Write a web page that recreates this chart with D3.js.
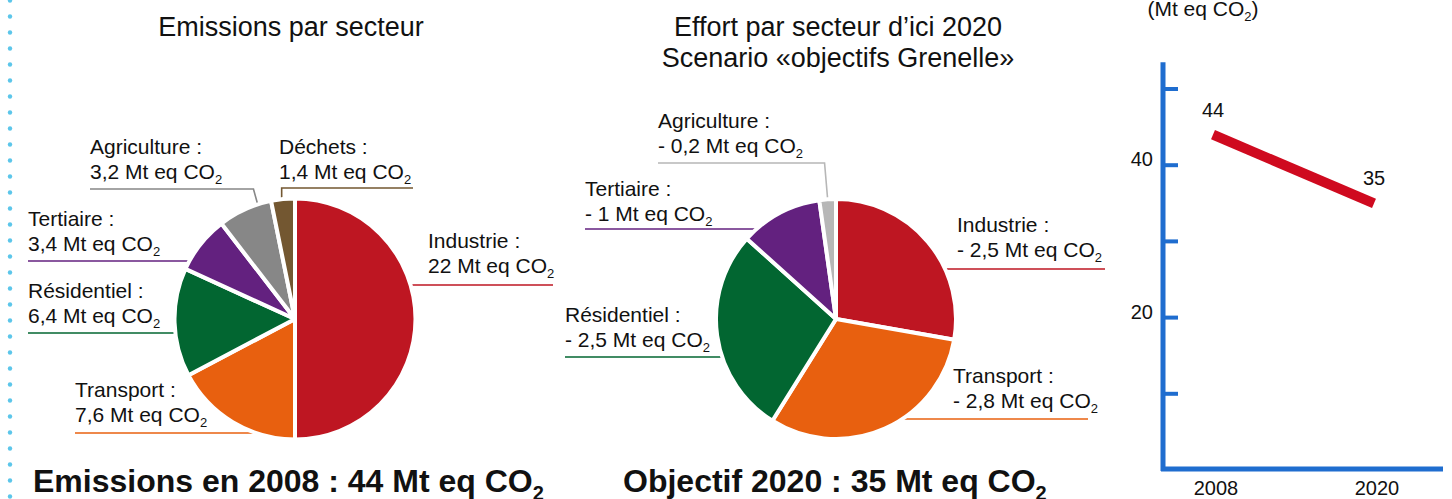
<!DOCTYPE html>
<html><head><meta charset="utf-8">
<script src="https://cdn.jsdelivr.net/npm/d3@7/dist/d3.min.js"></script>
<style>
html,body{margin:0;padding:0;background:#fff;}
svg{display:block;font-family:"Liberation Sans",Arial,sans-serif;}
</style></head>
<body>
<svg id="chart" width="1452" height="499"></svg>
<script>
// ---------- DATA ----------
const sectors2008 = ["Industrie", "Transport", "Résidentiel", "Tertiaire", "Agriculture", "Déchets"];
const values2008 = [22, 7.6, 6.4, 3.4, 3.2, 1.4];
const sectors2020 = ["Industrie", "Transport", "Résidentiel", "Tertiaire", "Agriculture"];
const effort2020 = [2.5, 2.8, 2.5, 1, 0.2];
const years = ["2008", "2020"];
const totals = [44, 35];
const yTicks = [10, 20, 30, 40, 50];
const yTickLabels = ["", "20", "", "40", ""];

// ---------- STYLE ----------
const colors = {
  "Industrie": "#be1622", "Transport": "#e8600f", "Résidentiel": "#026631",
  "Tertiaire": "#63217f", "Agriculture": "#878787", "Déchets": "#735731"
};
const colors2020 = Object.assign({}, colors, {"Agriculture": "#b7b7b7"});
const txtColor = "#111";
const svg = d3.select("#chart");

// left dotted border
svg.append("g").selectAll("circle").data(d3.range(0, 32)).join("circle")
  .attr("cx", 10).attr("cy", d => d * 16 + 0.5).attr("r", 2.2).attr("fill", "#5cc6ea");

function coText(sel, main, size, subSize, subDy) {
  sel.append("tspan").text(main);
  sel.append("tspan").attr("font-size", subSize).attr("dy", subDy).text("2");
}
function fmt(v) { return String(v).replace(".", ","); }

function drawPie(cx, cy, r, names, vals, cols, layout, prefix) {
  const g = svg.append("g");
  const pie = d3.pie().sort(null).value(d => d.v);
  const arcs = pie(names.map((n, i) => ({n, v: vals[i]})));
  const arc = d3.arc().innerRadius(0).outerRadius(r);
  const lines = g.append("g");
  const slices = g.append("g").attr("transform", `translate(${cx},${cy})`);
  slices.selectAll("path").data(arcs).join("path")
    .attr("d", arc).attr("fill", d => cols[d.data.n])
    .attr("stroke", "#fff").attr("stroke-width", 4).attr("stroke-linejoin", "round");
  arcs.forEach(a => {
    const L = layout[a.data.n];
    const col = cols[a.data.n];
    let pts;
    if (L.frac !== undefined) {
      const ang = a.startAngle + L.frac * (a.endAngle - a.startAngle);
      const px = cx + (r + 1) * Math.sin(ang), py = cy - (r + 1) * Math.cos(ang);
      pts = [[L.x0, L.ly], [px + L.ex, L.ly], [px, py]];
    } else {
      const dy = L.ly - cy;
      const dx = Math.sqrt(Math.max(0, r * r - dy * dy));
      if (L.side === "right") pts = [[cx + dx - 4, L.ly], [L.x1, L.ly]];
      else pts = [[L.x0, L.ly], [cx - dx + 4, L.ly]];
    }
    lines.append("path").attr("d", d3.line()(pts)).attr("fill", "none")
      .attr("stroke", col).attr("stroke-width", 1.6);
    const t = g.append("text").attr("x", L.tx).attr("y", L.ty)
      .attr("font-size", 21).attr("fill", txtColor);
    t.text(a.data.n + " :");
    const t2 = g.append("text").attr("x", L.tx).attr("y", L.ty + 25)
      .attr("font-size", 21).attr("fill", txtColor);
    coText(t2, prefix + fmt(a.data.v) + " Mt eq CO", 21, 13, 5);
  });
}

// ---------- LEFT PIE ----------
svg.append("text").attr("x", 291).attr("y", 36).attr("text-anchor", "middle")
  .attr("font-size", 27).attr("fill", txtColor).text("Emissions par secteur");
drawPie(295, 319, 120.5, sectors2008, values2008, colors, {
  "Industrie":   {tx: 428, ty: 248, ly: 285, side: "right", x1: 553},
  "Transport":   {tx: 75, ty: 397, ly: 433, x0: 75},
  "Résidentiel": {tx: 28, ty: 298, ly: 333, x0: 28},
  "Tertiaire":   {tx: 28, ty: 226, ly: 261, x0: 28},
  "Agriculture": {tx: 90, ty: 154, ly: 189, x0: 90, frac: 0.75, ex: -4},
  "Déchets":     {tx: 279, ty: 154, ly: 188, x0: 413, frac: 0.45, ex: 0}
}, "");

// ---------- MIDDLE PIE ----------
svg.append("text").attr("x", 838).attr("y", 36).attr("text-anchor", "middle")
  .attr("font-size", 27).attr("fill", txtColor).text("Effort par secteur d’ici 2020");
svg.append("text").attr("x", 838).attr("y", 67).attr("text-anchor", "middle")
  .attr("font-size", 27).attr("fill", txtColor).text("Scenario «objectifs Grenelle»");
drawPie(836, 319, 120, sectors2020, effort2020, colors2020, {
  "Industrie":   {tx: 957, ty: 232, ly: 269, side: "right", x1: 1105},
  "Transport":   {tx: 953, ty: 383, ly: 419, side: "right", x1: 1088},
  "Résidentiel": {tx: 565, ty: 322, ly: 357, x0: 565},
  "Tertiaire":   {tx: 585, ty: 196, ly: 229, x0: 585},
  "Agriculture": {tx: 658, ty: 128, ly: 163, x0: 658, frac: 0.5, ex: -3}
}, "- ");

// bottom headlines
const b1 = svg.append("text").attr("x", 33).attr("y", 492).attr("font-size", 32)
  .attr("font-weight", "bold").attr("fill", txtColor);
coText(b1, "Emissions en " + years[0] + " : " + totals[0] + " Mt eq CO", 32, 20, 8);
const b2 = svg.append("text").attr("x", 623).attr("y", 492).attr("font-size", 32)
  .attr("font-weight", "bold").attr("fill", txtColor);
coText(b2, "Objectif " + years[1] + " : " + totals[1] + " Mt eq CO", 32, 20, 8);

// ---------- LINE CHART ----------
const axisCol = "#1f6dcf";
const y = d3.scaleLinear().domain([0, 50]).range([470, 89]);
const x = d3.scalePoint().domain(years).range([1213, 1374]);
const ax = 1163;
const lc = svg.append("g");
const ut = lc.append("text").attr("x", 1203).attr("y", 16).attr("text-anchor", "middle")
  .attr("font-size", 21).attr("fill", txtColor);
coText(ut, "(Mt eq CO", 21, 13, 5);
ut.append("tspan").attr("dy", -5).text(")");

lc.append("line").attr("x1", ax).attr("x2", ax).attr("y1", y(53.5)).attr("y2", y(0) + 1)
  .attr("stroke", axisCol).attr("stroke-width", 5);
lc.append("line").attr("x1", ax - 2).attr("x2", 1443).attr("y1", y(0) - 1).attr("y2", y(0) - 1)
  .attr("stroke", axisCol).attr("stroke-width", 5);
lc.selectAll(".tick").data(yTicks).join("line").attr("class", "tick")
  .attr("x1", ax).attr("x2", ax + 15).attr("y1", d => y(d)).attr("y2", d => y(d))
  .attr("stroke", axisCol).attr("stroke-width", 4);
lc.selectAll(".tl").data(yTicks).join("text").attr("class", "tl")
  .attr("x", ax - 10).attr("y", d => y(d) + 1).attr("text-anchor", "end")
  .attr("font-size", 20).attr("fill", txtColor).text((d, i) => yTickLabels[i]);
lc.selectAll(".xl").data(years).join("text").attr("class", "xl")
  .attr("x", d => x(d) + 3).attr("y", 495).attr("text-anchor", "middle")
  .attr("font-size", 20).attr("fill", txtColor).text(d => d);

const pts = years.map((yr, i) => [x(yr), y(totals[i])]);
lc.append("path").attr("d", d3.line()(pts)).attr("fill", "none")
  .attr("stroke", "#cf0a1f").attr("stroke-width", 10);
lc.selectAll(".vl").data(years).join("text").attr("class", "vl")
  .attr("x", d => x(d)).attr("y", (d, i) => y(totals[i]) - 18).attr("text-anchor", "middle")
  .attr("font-size", 20).attr("fill", txtColor).text((d, i) => totals[i]);
</script>
</body></html>
